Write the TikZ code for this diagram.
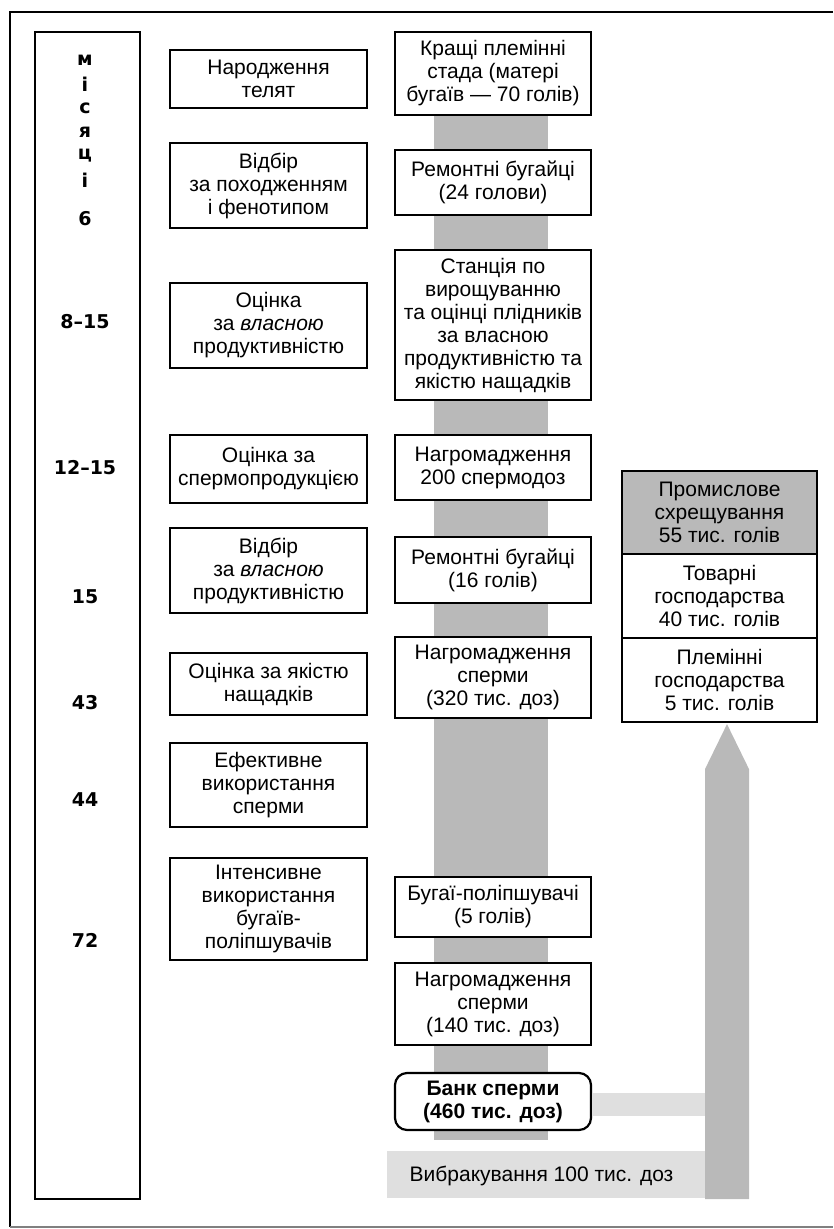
\documentclass[tikz,border=0pt]{standalone}
\usepackage{fontspec}
\setmainfont{Liberation Sans}
\newfontfamily\monthfont{DejaVu Sans}
\usepackage{tikz}
\usetikzlibrary{positioning,calc}
\colorlet{barGray}{gray!55}
\colorlet{lightbarGray}{gray!25}

\begin{document}
\begin{tikzpicture}[x=1pt, y=-1pt,
        every node/.style={font=\fontsize{21}{23}\selectfont, align=center, inner sep=1pt},
        stagebox/.style={draw, line width=2.2pt, fill=white, minimum width=197pt},
        chainbox/.style={draw, line width=2.2pt, fill=white, minimum width=196pt},
        farmbox/.style={draw, line width=2.2pt, fill=white, minimum width=195pt, minimum height=84pt},
        monthlbl/.style={font=\monthfont\bfseries\fontsize{19}{19}\selectfont}]
        \useasboundingbox (0,0) rectangle (834,1229);
        % outer frame, open on the right
        \draw[line width=1.8pt] (833,12) -- (10,12) -- (10,1227);
        \draw[line width=1.2pt, gray] (10,1227) -- (833,1227);

        % months column
        \node[draw, line width=2pt, minimum width=105pt, minimum height=1167pt] (monthcol) at (87.5,615.5) {};
        \foreach \ch [count=\i] in {м,і,с,я,ц,і}
            \node[monthlbl] (ml\i) at (85,36+24*\i) {\ch};
        \foreach \t/\yy [count=\i] in {6/219, 8–15/322, 12–15/468, 15/597, 43/703, 44/800, 72/940}
            \node[monthlbl] (mn\i) at (85,\yy) {\t};

        % stages of the scheme
        \node[stagebox, minimum height=58pt] (m1) at (268.5,79) {Народження\\телят};
        \node[stagebox, minimum height=85pt] (m2) at (268.5,185.5) {Відбір\\за походженням\\і фенотипом};
        \node[stagebox, minimum height=85pt] (m3) at (268.5,325.5) {Оцінка\\за \textit{власною}\\продуктивністю};
        \node[stagebox, minimum height=68pt] (m4) at (268.5,469) {Оцінка за\\спермопродукцією};
        \node[stagebox, minimum height=85pt] (m5) at (268.5,570.5) {Відбір\\за \textit{власною}\\продуктивністю};
        \node[stagebox, minimum height=62pt] (m6) at (268.5,684) {Оцінка за якістю\\нащадків};
        \node[stagebox, minimum height=84pt] (m7) at (268.5,785) {Ефективне\\використання\\сперми};
        \node[stagebox, minimum height=102pt] (m8) at (268.5,909) {Інтенсивне\\використання\\бугаїв-\\поліпшувачів};

        % shaded bar behind the chain
        \fill[barGray] (434,115) rectangle (548,1140);

        \node[chainbox, minimum height=83pt] (r1) at (493,73.5) {Кращі племінні\\стада (матері\\бугаїв — 70 голів)};
        \node[chainbox, minimum height=65pt] (r2) at (493,182.5) {Ремонтні бугайці\\(24 голови)};
        \node[chainbox, minimum height=150pt] (r3) at (493,325) {Станція по\\вирощуванню\\та оцінці плідників\\за власною\\продуктивністю та\\якістю нащадків};
        \node[chainbox, minimum height=65pt] (r4) at (493,467.5) {Нагромадження\\200 спермодоз};
        \node[chainbox, minimum height=66pt] (r5) at (493,570) {Ремонтні бугайці\\(16 голів)};
        \node[chainbox, minimum height=81pt] (r6) at (493,677.5) {Нагромадження\\сперми\\(320 тис. доз)};
        \node[chainbox, minimum height=60pt] (r7) at (493,907) {Бугаї-поліпшувачі\\(5 голів)};
        \node[chainbox, minimum height=82pt] (r8) at (493,1004) {Нагромадження\\сперми\\(140 тис. доз)};
        \node[chainbox, minimum height=57pt, rounded corners=12pt, font=\fontsize{21}{23}\selectfont\bfseries] (r9) at (493,1101.5) {Банк сперми\\(460 тис. доз)};

        % farms fed from the bank
        \node[farmbox, fill=barGray, minimum height=83pt] (g1) at (719.5,512.5) {Промислове\\схрещування\\55 тис. голів};
        \node[farmbox, below=-2.2pt of g1] (g2) {Товарні\\господарства\\40 тис. голів};
        \node[farmbox, below=-2.2pt of g2] (g3) {Племінні\\господарства\\5 тис. голів};

        % wide shaded arrow and culling band
        \coordinate (tip) at ($(g3.south)+(7.5,1)$);
        \fill[lightbarGray] ($(r9.east)+(1,-9)$) rectangle ($(r9.east)+(114,14)$);
        \fill[lightbarGray] (387,1151) rectangle (705,1198);
        \fill[barGray] (tip) -- ++(22,45) -- ++(0,430) -- ++(-44,0) -- ++(0,-430) -- cycle;
        \node (cull) at (541.5,1176) {Вибракування 100 тис. доз};
    \end{tikzpicture}
\end{document}
